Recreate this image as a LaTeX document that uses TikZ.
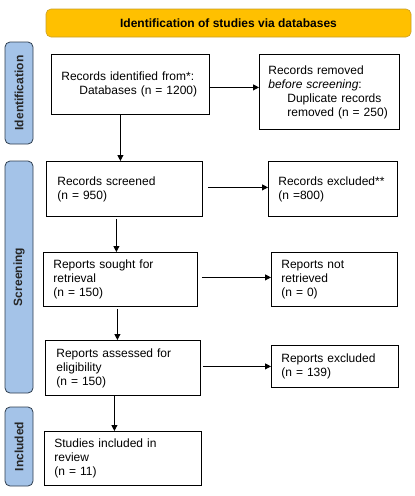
\documentclass[tikz,border=0pt]{standalone}
\usepackage{fontspec}
\setmainfont{Liberation Sans}
\usetikzlibrary{calc,positioning,arrows.meta}
\definecolor{bannerfill}{HTML}{FFC000}
\definecolor{bannerdraw}{HTML}{C9A02A}
\definecolor{sidefill}{HTML}{A4C3E8}
\definecolor{sidedraw}{HTML}{2E3D4E}
\begin{document}
\begin{tikzpicture}[x=1pt,y=-1pt,
  font=\fontsize{12}{14}\selectfont,
  pbox/.style={draw,line width=0.8pt,anchor=north west,align=left,inner xsep=10pt,inner ysep=0pt},
  side/.style={draw=sidedraw,fill=sidefill,line width=0.8pt,rounded corners=5pt,rotate=90,font=\fontsize{12}{14}\selectfont\bfseries,text=black!85,inner sep=0pt},
  arr/.style={-{Triangle[length=6pt,width=6pt]},line width=0.8pt}]
\useasboundingbox(0,0)rectangle(415,496);
\node[draw=bannerdraw,fill=bannerfill,rounded corners=5pt,line width=0.6pt,minimum width=365,minimum height=28,font=\fontsize{12}{14}\selectfont\bfseries](banner)at(228.5,23){Identification of studies via databases};
\node[side,minimum width=102,minimum height=28](sident)at(19,93){Identification};
\node[side,minimum width=232,minimum height=28](sscreen)at(19,277){Screening};
\node[side,minimum width=79,minimum height=28](sincl)at(19,446.5){Included};
\node[pbox,text width=138,minimum height=60](ident)at(51,54){Records identified from*:\\\hspace*{18pt}Databases (n = 1200)};
\node[pbox,text width=122,minimum height=75,inner xsep=9pt](removed)at(259,54){Records removed\\\textit{before screening}:\\\hspace*{19pt}Duplicate records\\\hspace*{19pt}removed (n = 250)};
\node[pbox,text width=134,minimum height=55,inner xsep=11pt](screened)at(46,161){Records screened\\(n = 950)};
\node[pbox,text width=109,minimum height=55](excl1)at(268,161){Records excluded**\\(n =800)};
\node[pbox,text width=134,minimum height=54](sought)at(43,252){Reports sought for\\retrieval\\(n = 150)};
\node[pbox,text width=106,minimum height=54](notret)at(271,252){Reports not\\retrieved\\(n = 0)};
\node[pbox,text width=133,minimum height=55,inner xsep=11pt](assessed)at(45,340){Reports assessed for\\eligibility\\(n = 150)};
\node[pbox,text width=107,minimum height=42](excl2)at(271,345){Reports excluded\\(n = 139)};
\node[pbox,text width=137,minimum height=54](incl)at(44,431){Studies included in\\review\\(n = 11)};
\draw[arr]([yshift=-3pt]ident.east)--([yshift=-3pt]ident.east-|removed.west);
\draw[arr]([xshift=5pt,yshift=1.5pt]screened.east)--([yshift=1.5pt]screened.east-|excl1.west);
\draw[arr]([xshift=4pt,yshift=2pt]sought.east)--([yshift=2pt]sought.east-|notret.west);
\draw[arr]([xshift=2pt,yshift=1.5pt]assessed.east)--([yshift=1.5pt]assessed.east-|excl2.west);
\draw[arr]([xshift=-10pt]ident.south)--([xshift=-10pt]ident.south|-screened.north);
\draw[arr]([xshift=-8pt,yshift=-2pt]screened.south)--([xshift=-8pt]screened.south|-sought.north);
\draw[arr]([xshift=-3pt,yshift=-2pt]sought.south)--([xshift=-3pt]sought.south|-assessed.north);
\draw[arr]([xshift=-8.5pt]assessed.south)--([xshift=-8.5pt]assessed.south|-incl.north);
\end{tikzpicture}
\end{document}
